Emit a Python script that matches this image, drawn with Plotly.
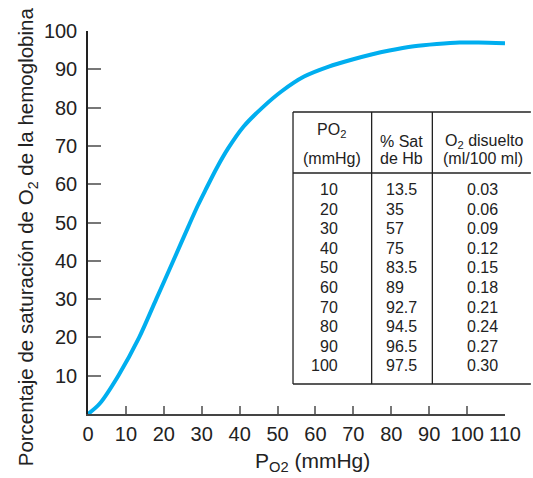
import plotly.graph_objects as go

# Data (curve)
po2_curve = [0, 3, 8, 13.5, 18, 22.5, 26.5, 29, 31, 34, 37, 41, 46, 51, 57, 63.5,
             69.5, 74.5, 79.5, 86, 92, 98, 103, 110]
sat_curve = [0, 2.6, 10, 20, 30, 40, 49, 54.5, 58.5, 64.3, 69.4, 75, 80, 84.2, 88.1, 90.7,
             92.5, 93.8, 94.9, 96, 96.6, 97, 97, 96.8]

table_po2 = ["10", "20", "30", "40", "50", "60", "70", "80", "90", "100"]
table_sat = ["13.5", "35", "57", "75", "83.5", "89", "92.7", "94.5", "96.5", "97.5"]
table_o2 = ["0.03", "0.06", "0.09", "0.12", "0.15", "0.18", "0.21", "0.24", "0.27", "0.30"]

x_ticks = [0, 10, 20, 30, 40, 50, 60, 70, 80, 90, 100, 110]
y_ticks = [10, 20, 30, 40, 50, 60, 70, 80, 90, 100]

W, H = 533, 478
L, R, T, B = 88, 26, 31, 64
PW, PH = W - L - R, H - T - B

def px(xp):
    return (xp - L) / PW

def py(yp):
    return (H - B - yp) / PH

FONT = "Liberation Sans, Arial, sans-serif"
INK = "#222222"

fig = go.Figure()
fig.add_trace(go.Scatter(
    x=po2_curve, y=sat_curve, mode="lines",
    line=dict(color="#00AEEF", width=4, shape="spline", smoothing=0.8),
    cliponaxis=False, showlegend=False, hoverinfo="skip"))

shapes = []
line_style = dict(color=INK, width=1.3)
for yy in [112, 173, 384]:
    shapes.append(dict(type="line", xref="paper", yref="paper",
                       x0=px(294), x1=px(533), y0=py(yy), y1=py(yy), line=line_style))
for xx in [294, 373, 434]:
    shapes.append(dict(type="line", xref="paper", yref="paper",
                       x0=px(xx), x1=px(xx), y0=py(112), y1=py(384), line=line_style))

ann = []
tf = dict(family=FONT, size=16, color=INK)
def add(text, xp, yp, xanchor="center"):
    ann.append(dict(text=text, xref="paper", yref="paper", x=px(xp), y=py(yp),
                    xanchor=xanchor, yanchor="middle", showarrow=False, font=tf))

add("PO<sub>2</sub>", 333, 130)
add("(mmHg)", 333, 158)
add("% Sat", 403, 141)
add("de Hb", 403, 158)
add("O<sub>2</sub> disuelto", 486, 141)
add("(ml/100 ml)", 485, 158)
for i in range(len(table_po2)):
    yy = 189.5 + i * 19.6
    add(table_po2[i], 341, yy, "right")
    add(table_sat[i], 385, yy, "left")
    add(table_o2[i], 484, yy, "center")

ann.append(dict(text="Porcentaje de saturación de O<sub>2</sub> de la hemoglobina",
                xref="paper", yref="paper", x=px(27), y=py(237), textangle=-90,
                xanchor="center", yanchor="middle", showarrow=False,
                font=dict(family=FONT, size=20.5, color=INK)))
ann.append(dict(text="P<sub>O2</sub> (mmHg)", xref="paper", yref="paper",
                x=px(314), y=py(462), xanchor="center", yanchor="middle",
                showarrow=False, font=dict(family=FONT, size=21, color=INK)))

fig.update_layout(
    width=W, height=H, margin=dict(l=L, r=R, t=T, b=B),
    plot_bgcolor="white", paper_bgcolor="white",
    shapes=shapes, annotations=ann,
    xaxis=dict(range=[0, 110], tickvals=x_ticks, ticks="inside", ticklen=8,
               tickcolor="#777777", tickwidth=1.5, showline=True, linecolor="#444444",
               linewidth=1.5, showgrid=False, zeroline=False, ticklabelstandoff=1,
               tickfont=dict(family=FONT, size=20, color=INK)),
    yaxis=dict(range=[0, 100], tickvals=y_ticks, ticks="inside", ticklen=13,
               tickcolor="#777777", tickwidth=1.5, showline=True, linecolor=INK,
               linewidth=1.5, showgrid=False, zeroline=False, ticklabelstandoff=5,
               tickfont=dict(family=FONT, size=20, color=INK)),
)

fig.write_html("out.html", config={"displayModeBar": False},
               post_script="document.body.style.margin='0';document.body.style.overflow='hidden';")
